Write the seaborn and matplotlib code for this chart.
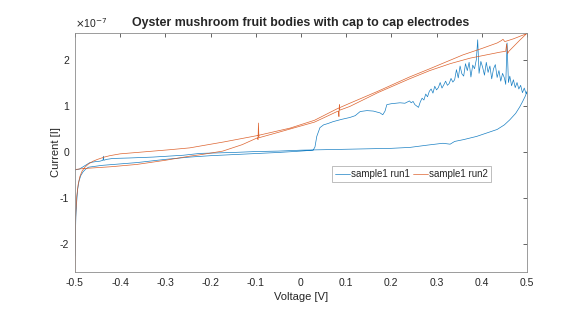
import numpy as np
import pandas as pd
import matplotlib
matplotlib.use("Agg")
import matplotlib.pyplot as plt
import seaborn as sns

# I-V sweep data, current in units of 1e-7 A
# run1: forward sweep up to the noisy part
run1_fwd_v = [-0.500, -0.499, -0.498, -0.496, -0.494, -0.491, -0.487, -0.482, -0.476, -0.470,
              -0.440, -0.400, -0.363, -0.300, -0.246, -0.200, -0.135, -0.050, 0.000, 0.027,
              0.031, 0.035, 0.042, 0.050, 0.060, 0.071, 0.090, 0.108, 0.120, 0.131,
              0.146, 0.160, 0.175, 0.181, 0.186, 0.190, 0.200, 0.219, 0.230]
run1_fwd_i = [-2.25, -1.80, -1.40, -1.05, -0.80, -0.62, -0.50, -0.42, -0.36, -0.32,
              -0.28, -0.25, -0.22, -0.15, -0.10, -0.07, -0.04, 0.00, 0.03, 0.05,
              0.12, 0.35, 0.54, 0.60, 0.63, 0.67, 0.72, 0.76, 0.80, 0.89,
              0.91, 0.90, 0.86, 0.82, 0.90, 1.04, 1.06, 1.08, 1.07]
# run1: noisy stretch at high voltage
run1_noise_v = [0.240, 0.244, 0.248, 0.252, 0.256, 0.260, 0.264, 0.268, 0.272, 0.276,
                0.280, 0.284, 0.288, 0.292, 0.296, 0.300, 0.304, 0.308, 0.312, 0.316,
                0.320, 0.324, 0.328, 0.332, 0.336, 0.340, 0.344, 0.348, 0.352, 0.356,
                0.360, 0.364, 0.368, 0.372, 0.376, 0.380, 0.384, 0.388, 0.391, 0.394,
                0.398, 0.402, 0.406, 0.410, 0.414, 0.418, 0.422, 0.426, 0.430, 0.434,
                0.438, 0.442, 0.446, 0.450, 0.453, 0.456, 0.459, 0.462, 0.466, 0.470,
                0.474, 0.478, 0.482, 0.486, 0.490, 0.494, 0.498, 0.500]
run1_noise_i = [1.12, 1.08, 1.11, 1.04, 1.01, 0.98, 1.10, 1.18, 1.14, 1.27,
                1.21, 1.33, 1.38, 1.29, 1.44, 1.36, 1.41, 1.52, 1.40, 1.47,
                1.55, 1.46, 1.50, 1.61, 1.53, 1.58, 1.80, 1.62, 1.88, 1.71,
                1.66, 1.93, 1.78, 1.96, 1.64, 1.90, 1.82, 2.02, 2.45, 1.72,
                1.98, 1.85, 1.68, 1.96, 1.74, 1.88, 1.60, 1.82, 1.91, 1.63,
                1.78, 1.55, 1.72, 1.62, 1.48, 2.38, 1.52, 1.66, 1.45, 1.58,
                1.41, 1.52, 1.38, 1.46, 1.30, 1.40, 1.28, 1.32]
# run1: return sweep back to -0.5 V
run1_ret_v = [0.496, 0.490, 0.484, 0.475, 0.462, 0.450, 0.434, 0.410, 0.389, 0.360,
              0.340, 0.330, 0.314, 0.280, 0.241, 0.200, 0.150, 0.100, 0.050, 0.000,
              -0.050, -0.100, -0.150, -0.223, -0.260, -0.327, -0.380, -0.416, -0.430, -0.436,
              -0.437, -0.438, -0.445, -0.455, -0.467, -0.480, -0.490, -0.500]
run1_ret_i = [1.22, 1.10, 0.99, 0.85, 0.71, 0.60, 0.50, 0.42, 0.35, 0.28,
              0.24, 0.18, 0.20, 0.16, 0.11, 0.09, 0.08, 0.07, 0.06, 0.05,
              0.03, 0.02, 0.00, -0.02, -0.06, -0.10, -0.12, -0.13, -0.15, -0.17,
              -0.08, -0.17, -0.19, -0.20, -0.22, -0.30, -0.36, -0.38]

run2_v = [-0.500, -0.4995, -0.499, -0.498, -0.496, -0.493, -0.489, -0.484, -0.478, -0.470,
          -0.460, -0.450, -0.435, -0.423, -0.400, -0.363, -0.290, -0.246, -0.170, -0.095,
          -0.024, 0.030, 0.080, 0.108, 0.170, 0.240, 0.285, 0.358, 0.400, 0.434,
          0.443, 0.447, 0.451, 0.470, 0.496, 0.500,
          0.485, 0.470, 0.460, 0.457, 0.455, 0.453, 0.440, 0.374, 0.330, 0.285,
          0.240, 0.170, 0.108, 0.086, 0.085, 0.084, 0.083, 0.080, 0.030, -0.024,
          -0.060, -0.093, -0.094, -0.095, -0.096, -0.130, -0.173, -0.223, -0.246, -0.300,
          -0.363, -0.420, -0.482, -0.500]
run2_i = [-2.60, -2.10, -1.70, -1.30, -0.95, -0.70, -0.52, -0.40, -0.32, -0.25,
          -0.19, -0.15, -0.10, -0.07, -0.03, 0.00, 0.06, 0.10, 0.23, 0.37,
          0.53, 0.70, 0.95, 1.07, 1.33, 1.64, 1.82, 2.12, 2.26, 2.38,
          2.43, 2.46, 2.41, 2.47, 2.57, 2.59,
          2.45, 2.30, 2.20, 2.15, 2.36, 2.20, 2.18, 2.05, 1.93, 1.78,
          1.60, 1.30, 1.00, 0.92, 1.04, 0.78, 0.90, 0.89, 0.66, 0.51,
          0.41, 0.32, 0.64, 0.28, 0.32, 0.17, 0.03, -0.05, -0.08, -0.17,
          -0.26, -0.31, -0.35, -0.37]

labels = ["sample1 run1", "sample1 run2"]
colors = ["#0072BD", "#D95319"]
x_ticks = [-0.5, -0.4, -0.3, -0.2, -0.1, 0, 0.1, 0.2, 0.3, 0.4, 0.5]
x_tick_labels = ["-0.5", "-0.4", "-0.3", "-0.2", "-0.1", "0", "0.1", "0.2", "0.3", "0.4", "0.5"]
y_ticks = [-2e-7, -1e-7, 0, 1e-7, 2e-7]
y_tick_labels = ["-2", "-1", "0", "1", "2"]

run1_v = run1_fwd_v + run1_noise_v + run1_ret_v
run1_i = run1_fwd_i + run1_noise_i + run1_ret_i

df = pd.concat([
    pd.DataFrame({"V": run1_v, "I": np.array(run1_i) * 1e-7, "run": labels[0]}),
    pd.DataFrame({"V": run2_v, "I": np.array(run2_i) * 1e-7, "run": labels[1]}),
])

sns.set_style("white")
plt.rcParams["font.family"] = ["Liberation Sans", "DejaVu Sans"]
plt.rcParams["axes.unicode_minus"] = False

fig = plt.figure(figsize=(5.81, 3.16), dpi=100)
ax = fig.add_axes([0.129, 0.139, 0.778, 0.757])

sns.lineplot(data=df, x="V", y="I", hue="run", units="run", sort=False, estimator=None,
             palette=colors, linewidth=0.5, alpha=0.9, ax=ax)

ax.set_xlim(-0.5, 0.5)
ax.set_ylim(-2.6e-7, 2.6e-7)
ax.set_xticks(x_ticks)
ax.set_xticklabels(x_tick_labels)
ax.set_yticks(y_ticks)
ax.set_yticklabels(y_tick_labels)
# exponent label like MATLAB's
ax.text(0.0, 1.012, r"$\times$10$^{-7}$", transform=ax.transAxes, ha="left", va="bottom",
        fontsize=7.5, color="#262626")

ax.tick_params(direction="in", length=3, width=0.5, top=True, right=True,
               labelsize=7.5, colors="#262626", pad=4)
for s in ax.spines.values():
    s.set_linewidth(0.6)
    s.set_color("#8c8c8c")

ax.set_xlabel("Voltage [V]", fontsize=8, color="#262626", labelpad=3)
ax.set_ylabel("Current [I]", fontsize=8, color="#262626", labelpad=-1)
ax.set_title("Oyster mushroom fruit bodies with cap to cap electrodes",
             fontsize=8.9, fontweight="bold", pad=5)

leg = ax.legend(loc="center", bbox_to_anchor=(0.745, 0.41), ncol=2, fontsize=7,
                frameon=True, fancybox=False, handlelength=1.5, handletextpad=0.15,
                columnspacing=0.3, borderpad=0.35)
leg.get_frame().set_edgecolor("#a0a0a0")
leg.get_frame().set_linewidth(0.6)

fig.savefig("out.png", dpi=100)
